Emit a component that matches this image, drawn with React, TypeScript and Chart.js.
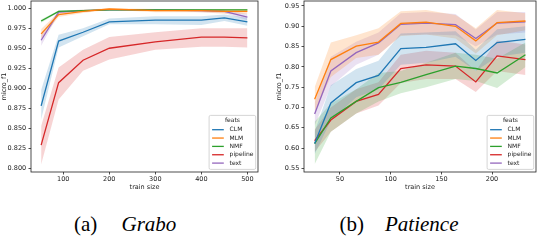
import React, { useEffect, useRef } from "react";
import { Chart, registerables } from "chart.js";

Chart.register(...registerables);

// ---------- data ----------
const FEATS = ["CLM", "MLM", "NMF", "pipeline", "text"];

// (a) Grabo
const GRABO_TRAIN_SIZE = [52, 90, 143, 200, 300, 400, 450, 500];
const GRABO_CLM = [0.878, 0.959, 0.970, 0.983, 0.985, 0.985, 0.988, 0.983];
const GRABO_CLM_LO = [0.861, 0.951, 0.965, 0.980, 0.980, 0.979, 0.984, 0.978];
const GRABO_CLM_HI = [0.898, 0.967, 0.975, 0.987, 0.990, 0.990, 0.992, 0.988];
const GRABO_MLM = [0.968, 0.992, 0.996, 0.999, 0.997, 0.997, 0.996, 0.996];
const GRABO_MLM_LO = [0.962, 0.989, 0.994, 0.998, 0.995, 0.995, 0.993, 0.993];
const GRABO_MLM_HI = [0.974, 0.995, 0.998, 1.0, 0.999, 0.999, 0.999, 0.999];
const GRABO_NMF = [0.984, 0.996, 0.997, 0.998, 0.998, 0.998, 0.998, 0.998];
const GRABO_NMF_LO = [0.982, 0.995, 0.996, 0.997, 0.997, 0.997, 0.997, 0.997];
const GRABO_NMF_HI = [0.986, 0.997, 0.998, 0.999, 0.999, 0.999, 0.999, 0.999];
const GRABO_PIPELINE = [0.829, 0.907, 0.935, 0.950, 0.958, 0.964, 0.964, 0.963];
const GRABO_PIPELINE_LO = [0.805, 0.886, 0.922, 0.936, 0.948, 0.952, 0.952, 0.951];
const GRABO_PIPELINE_HI = [0.853, 0.926, 0.948, 0.964, 0.970, 0.975, 0.975, 0.975];
const GRABO_TEXT = [0.960, 0.995, 0.997, 0.998, 0.998, 0.997, 0.996, 0.989];
const GRABO_TEXT_LO = [0.953, 0.993, 0.996, 0.997, 0.997, 0.995, 0.994, 0.985];
const GRABO_TEXT_HI = [0.967, 0.997, 0.998, 0.999, 0.999, 0.999, 0.998, 0.993];
const GRABO_X_TICKS = [100, 200, 300, 400, 500];
const GRABO_Y_TICKS = [0.8, 0.825, 0.85, 0.875, 0.9, 0.925, 0.95, 0.975, 1.0];

// (b) Patience
const PATIENCE_TRAIN_SIZE = [25, 41, 66, 88, 110, 135, 164, 184, 205, 233];
const PATIENCE_CLM = [0.611, 0.711, 0.761, 0.779, 0.845, 0.848, 0.857, 0.816, 0.860, 0.868];
const PATIENCE_CLM_LO = [0.585, 0.668, 0.725, 0.745, 0.805, 0.810, 0.825, 0.790, 0.825, 0.835];
const PATIENCE_CLM_HI = [0.640, 0.755, 0.795, 0.815, 0.882, 0.885, 0.888, 0.842, 0.893, 0.900];
const PATIENCE_MLM = [0.720, 0.818, 0.851, 0.861, 0.907, 0.910, 0.900, 0.864, 0.909, 0.913];
const PATIENCE_MLM_LO = [0.690, 0.775, 0.822, 0.830, 0.876, 0.880, 0.870, 0.833, 0.878, 0.890];
const PATIENCE_MLM_HI = [0.750, 0.860, 0.878, 0.895, 0.937, 0.940, 0.928, 0.895, 0.940, 0.932];
const PATIENCE_NMF = [0.611, 0.674, 0.715, 0.749, 0.762, 0.781, 0.802, 0.796, 0.785, 0.830];
const PATIENCE_NMF_LO = [0.560, 0.640, 0.685, 0.715, 0.735, 0.750, 0.770, 0.765, 0.748, 0.800];
const PATIENCE_NMF_HI = [0.665, 0.710, 0.745, 0.785, 0.790, 0.810, 0.835, 0.830, 0.820, 0.860];
const PATIENCE_PIPELINE = [0.618, 0.669, 0.715, 0.732, 0.796, 0.805, 0.802, 0.763, 0.827, 0.818];
const PATIENCE_PIPELINE_LO = [0.590, 0.640, 0.685, 0.705, 0.760, 0.770, 0.770, 0.738, 0.790, 0.780];
const PATIENCE_PIPELINE_HI = [0.645, 0.700, 0.745, 0.762, 0.830, 0.840, 0.835, 0.790, 0.865, 0.855];
const PATIENCE_TEXT = [0.684, 0.790, 0.835, 0.859, 0.905, 0.908, 0.904, 0.870, 0.908, 0.911];
const PATIENCE_TEXT_LO = [0.655, 0.752, 0.805, 0.830, 0.878, 0.880, 0.878, 0.850, 0.880, 0.885];
const PATIENCE_TEXT_HI = [0.712, 0.825, 0.862, 0.885, 0.932, 0.935, 0.930, 0.892, 0.935, 0.935];
const PATIENCE_X_TICKS = [50, 100, 150, 200];
const PATIENCE_Y_TICKS = [0.55, 0.6, 0.65, 0.7, 0.75, 0.8, 0.85, 0.9, 0.95];

// ---------- styling ----------
const COLORS = ["#1f77b4", "#ff7f0e", "#2ca02c", "#d62728", "#9467bd"];
const BAND_COLORS = [
  "rgba(31,119,180,0.2)",
  "rgba(255,127,14,0.2)",
  "rgba(44,160,44,0.2)",
  "rgba(214,39,40,0.2)",
  "rgba(148,103,189,0.2)",
];
const FONT = '"DejaVu Sans", sans-serif';
const TEXT_COLOR = "#1a1a1a";

type Series = { mean: number[]; lo: number[]; hi: number[] };

const GRABO_SERIES: Series[] = [
  { mean: GRABO_CLM, lo: GRABO_CLM_LO, hi: GRABO_CLM_HI },
  { mean: GRABO_MLM, lo: GRABO_MLM_LO, hi: GRABO_MLM_HI },
  { mean: GRABO_NMF, lo: GRABO_NMF_LO, hi: GRABO_NMF_HI },
  { mean: GRABO_PIPELINE, lo: GRABO_PIPELINE_LO, hi: GRABO_PIPELINE_HI },
  { mean: GRABO_TEXT, lo: GRABO_TEXT_LO, hi: GRABO_TEXT_HI },
];
const PATIENCE_SERIES: Series[] = [
  { mean: PATIENCE_CLM, lo: PATIENCE_CLM_LO, hi: PATIENCE_CLM_HI },
  { mean: PATIENCE_MLM, lo: PATIENCE_MLM_LO, hi: PATIENCE_MLM_HI },
  { mean: PATIENCE_NMF, lo: PATIENCE_NMF_LO, hi: PATIENCE_NMF_HI },
  { mean: PATIENCE_PIPELINE, lo: PATIENCE_PIPELINE_LO, hi: PATIENCE_PIPELINE_HI },
  { mean: PATIENCE_TEXT, lo: PATIENCE_TEXT_LO, hi: PATIENCE_TEXT_HI },
];

function buildDatasets(xs: number[], series: Series[]) {
  const lines = series.map((s, i) => ({
    label: FEATS[i],
    data: xs.map((x, j) => ({ x, y: s.mean[j] })),
    borderColor: COLORS[i],
    backgroundColor: COLORS[i],
    borderWidth: 1.3,
    pointRadius: 0,
    fill: false,
    tension: 0,
    order: 0,
  }));
  const bands: any[] = [];
  series.forEach((s, i) => {
    bands.push({
      label: "",
      band: true,
      data: xs.map((x, j) => ({ x, y: s.lo[j] })),
      borderColor: "rgba(0,0,0,0)",
      borderWidth: 0,
      pointRadius: 0,
      fill: false,
      order: 1,
    });
    bands.push({
      label: "",
      band: true,
      data: xs.map((x, j) => ({ x, y: s.hi[j] })),
      borderColor: "rgba(0,0,0,0)",
      backgroundColor: BAND_COLORS[i],
      borderWidth: 0,
      pointRadius: 0,
      fill: "-1",
      order: 1,
    });
  });
  return [...lines, ...bands];
}

const framePlugin = {
  id: "frame",
  afterDatasetsDraw(chart: any) {
    const { ctx, chartArea } = chart;
    ctx.save();
    ctx.strokeStyle = "#222";
    ctx.lineWidth = 0.8;
    ctx.strokeRect(chartArea.left, chartArea.top, chartArea.right - chartArea.left, chartArea.bottom - chartArea.top);
    ctx.restore();
  },
};

const boxLegendPlugin = {
  id: "boxLegend",
  afterDraw(chart: any) {
    const { ctx, chartArea } = chart;
    const items = chart.data.datasets.filter((d: any) => !d.band);
    ctx.save();
    ctx.font = `6px ${FONT}`;
    const textW = Math.max(...items.map((d: any) => ctx.measureText(d.label).width));
    const textX = 20.5;
    const w = textX + textW + 2.3;
    const h = 54;
    const right = chartArea.right - 2.3;
    const bottom = chartArea.bottom - 2.6;
    const left = right - w;
    const top = bottom - h;
    ctx.beginPath();
    ctx.roundRect(left, top, w, h, 1.5);
    ctx.fillStyle = "rgba(255,255,255,0.8)";
    ctx.fill();
    ctx.strokeStyle = "#cccccc";
    ctx.lineWidth = 0.8;
    ctx.stroke();
    ctx.fillStyle = TEXT_COLOR;
    ctx.textBaseline = "middle";
    ctx.textAlign = "center";
    ctx.fillText("feats", left + w / 2, top + 5.4);
    ctx.textAlign = "left";
    items.forEach((d: any, i: number) => {
      const y = top + 14.3 + i * 8.35;
      ctx.strokeStyle = d.borderColor;
      ctx.lineWidth = 1.3;
      ctx.beginPath();
      ctx.moveTo(left + 3, y);
      ctx.lineTo(left + 14.7, y);
      ctx.stroke();
      ctx.fillStyle = TEXT_COLOR;
      ctx.fillText(d.label, left + textX, y);
    });
    ctx.restore();
  },
};

type Panel = {
  xs: number[];
  series: Series[];
  xMin: number;
  xMax: number;
  yMin: number;
  yMax: number;
  xTicks: number[];
  yTicks: number[];
  yDigits: number;
  width: number;
  height: number;
  padRight: number;
  yAxisWidth: number;
  yTitlePad: number;
  yTickPad: number;
};

function ChartPanel({ p, style }: { p: Panel; style: React.CSSProperties }) {
  const ref = useRef<HTMLCanvasElement | null>(null);
  useEffect(() => {
    if (!ref.current) return;
    const tickFont = { family: FONT, size: 6.5 };
    const chart = new Chart(ref.current, {
      type: "line",
      data: { datasets: buildDatasets(p.xs, p.series) as any },
      options: {
        animation: false,
        responsive: false,
        events: [],
        layout: { autoPadding: false, padding: { left: 0, top: 1, right: p.padRight, bottom: 0 } },
        plugins: {
          legend: { display: false },
          tooltip: { enabled: false },
          filler: { drawTime: "beforeDatasetsDraw", propagate: false },
        } as any,
        scales: {
          x: {
            type: "linear",
            min: p.xMin,
            max: p.xMax,
            afterBuildTicks: (s: any) => {
              s.ticks = p.xTicks.map((v) => ({ value: v }));
            },
            afterFit: (s: any) => {
              s.height = p.height - 172;
              s.paddingLeft = 0;
              s.paddingRight = 0;
            },
            ticks: {
              font: tickFont,
              color: TEXT_COLOR,
              padding: 0.5,
              autoSkip: false,
              maxRotation: 0,
              minRotation: 0,
              callback: (v: any) => String(v),
            },
            grid: { display: true, drawOnChartArea: false, drawTicks: true, tickLength: 2.5, color: "#222", lineWidth: 0.8 },
            border: { display: false },
            title: {
              display: true,
              text: "train size",
              font: tickFont,
              color: TEXT_COLOR,
              padding: { top: 0, bottom: p.height - 187 - 3.9 },
            },
          },
          y: {
            type: "linear",
            min: p.yMin,
            max: p.yMax,
            afterBuildTicks: (s: any) => {
              s.ticks = p.yTicks.map((v) => ({ value: v }));
            },
            afterFit: (s: any) => {
              s.width = p.yAxisWidth;
              s.paddingTop = 0;
              s.paddingBottom = 0;
            },
            ticks: {
              font: tickFont,
              color: TEXT_COLOR,
              padding: p.yTickPad,
              autoSkip: false,
              callback: (v: any) => Number(v).toFixed(p.yDigits),
            },
            grid: { display: true, drawOnChartArea: false, drawTicks: true, tickLength: 2.5, color: "#222", lineWidth: 0.8 },
            border: { display: false },
            title: {
              display: true,
              text: "micro_f1",
              font: tickFont,
              color: TEXT_COLOR,
              padding: { top: p.yTitlePad, bottom: 0 },
            },
          },
        },
      },
      plugins: [framePlugin, boxLegendPlugin],
    });
    return () => chart.destroy();
  }, [p]);
  return <canvas ref={ref} width={p.width} height={p.height} style={{ position: "absolute", display: "block", ...style }} />;
}

const GRABO_PANEL: Panel = {
  xs: GRABO_TRAIN_SIZE,
  series: GRABO_SERIES,
  xMin: 30,
  xMax: 523,
  yMin: 0.7955,
  yMax: 1.009,
  xTicks: GRABO_X_TICKS,
  yTicks: GRABO_Y_TICKS,
  yDigits: 3,
  width: 270,
  height: 192,
  padRight: 12,
  yAxisWidth: 31,
  yTitlePad: 0.8,
  yTickPad: 2.3,
};

const PATIENCE_PANEL: Panel = {
  xs: PATIENCE_TRAIN_SIZE,
  series: PATIENCE_SERIES,
  xMin: 14.5,
  xMax: 243.4,
  yMin: 0.541,
  yMax: 0.9623,
  xTicks: PATIENCE_X_TICKS,
  yTicks: PATIENCE_Y_TICKS,
  yDigits: 2,
  width: 270,
  height: 192,
  padRight: 4,
  yAxisWidth: 34,
  yTitlePad: 5.4,
  yTickPad: 2.2,
};

const capStyle: React.CSSProperties = {
  position: "absolute",
  top: 214,
  fontFamily: '"Liberation Serif", "Times New Roman", serif',
  fontSize: 21,
  lineHeight: "21px",
  color: "#000",
  whiteSpace: "nowrap",
};

export default function App() {
  return (
    <div
      style={{
        position: "absolute",
        left: 0,
        top: 0,
        width: 538,
        height: 242,
        overflow: "hidden",
        background: "#fff",
      }}
    >
      <ChartPanel p={GRABO_PANEL} style={{ left: 0, top: 0 }} />
      <ChartPanel p={PATIENCE_PANEL} style={{ left: 270, top: 0 }} />
      <span style={{ ...capStyle, left: 74 }}>(a)</span>
      <span style={{ ...capStyle, left: 121.5, fontStyle: "italic" }}>Grabo</span>
      <span style={{ ...capStyle, left: 339.5 }}>(b)</span>
      <span style={{ ...capStyle, left: 385, fontStyle: "italic" }}>Patience</span>
    </div>
  );
}
